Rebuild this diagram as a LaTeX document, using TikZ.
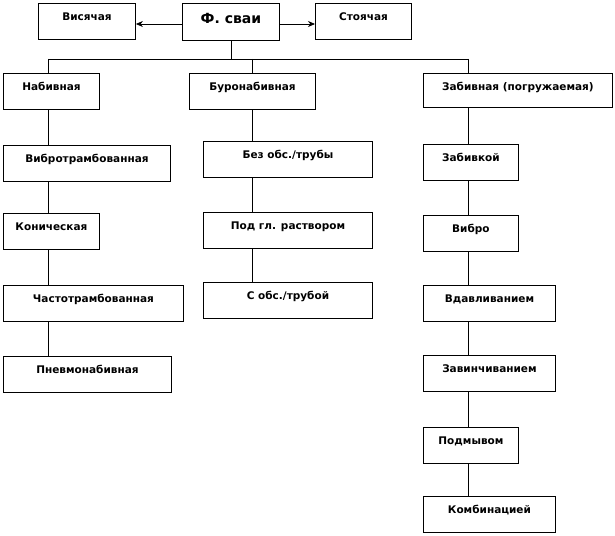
\documentclass[tikz,border=0pt]{standalone}
\usepackage{fontspec}
\setmainfont{DejaVu Sans}
\usetikzlibrary{arrows.meta}

\begin{document}
\begin{tikzpicture}[>={Stealth[length=7pt,width=6pt]}, x=1pt, y=-1pt, font=\bfseries\fontsize{10.5}{13}\selectfont,
    pbox/.style={draw, line width=0.9pt, anchor=north west, inner sep=0pt,
      text height=17pt, text depth=19pt, minimum width=#1},
    link/.style={line width=0.8pt}]
  \useasboundingbox (0,0) rectangle (615,535);
  % columns and the bus under the root
  \coordinate (col1) at (48,0);
  \coordinate (col2) at (252,0);
  \coordinate (col3) at (468,0);
  \coordinate (bus) at (0,59);
  \coordinate (arr) at (0,24);
  % top row: the root and the two kinds by load transfer
  \node[pbox=97] (visyach) at (38,3) {Висячая};
  \node[pbox=97, font=\bfseries\fontsize{14}{16}\selectfont, text height=20pt, text depth=17pt] (fsvai) at (182,3) {Ф. сваи};
  \node[pbox=96] (stoyach) at (315,3) {Стоячая};
  \draw[->, link] (fsvai.west |- arr) -- (visyach.east |- arr);
  \draw[->, link] (fsvai.east |- arr) -- (stoyach.west |- arr);
  % second row
  \node[pbox=96] (nabiv) at (3,73) {Набивная};
  \node[pbox=126] (buronab) at (189,73) {Буронабивная};
  \node[pbox=189, text depth=17pt] (zabiv) at (423,73) {Забивная (погружаемая)};
  \draw[link] (fsvai.south) -- (fsvai.south |- bus);
  \draw[link] (col1 |- bus) -- (col3 |- bus);
  \draw[link] (col1 |- bus) -- (nabiv.north -| col1);
  \draw[link] (col2 |- bus) -- (buronab.north -| col2);
  \draw[link] (col3 |- bus) -- (zabiv.north -| col3);
  % left column
  \node[pbox=167] (vibrotr) at (3,145) {Вибротрамбованная};
  \node[pbox=96] (konich) at (3,213) {Коническая};
  \node[pbox=180] (chastotr) at (3,285) {Частотрамбованная};
  \node[pbox=168] (pnevmo) at (3,356) {Пневмонабивная};
  \foreach \a/\b in {nabiv/vibrotr, vibrotr/konich, konich/chastotr, chastotr/pnevmo}
    \draw[link] (\a.south -| col1) -- (\b.north -| col1);
  % middle column
  \node[pbox=169] (bezobs) at (203,141) {Без обс./трубы};
  \node[pbox=169] (podgl) at (203,212) {Под гл. раствором};
  \node[pbox=169] (sobs) at (203,282) {С обс./трубой};
  \foreach \a/\b in {buronab/bezobs, bezobs/podgl, podgl/sobs}
    \draw[link] (\a.south -| col2) -- (\b.north -| col2);
  % right column
  \node[pbox=95] (zabivkoi) at (423,144) {Забивкой};
  \node[pbox=95] (vibro) at (423,215) {Вибро};
  \node[pbox=132] (vdavl) at (423,285) {Вдавливанием};
  \node[pbox=132] (zavinch) at (423,355) {Завинчиванием};
  \node[pbox=95] (podmyv) at (423,427) {Подмывом};
  \node[pbox=132] (kombin) at (423,496) {Комбинацией};
  \foreach \a/\b in {zabiv/zabivkoi, zabivkoi/vibro, vibro/vdavl, vdavl/zavinch, zavinch/podmyv, podmyv/kombin}
    \draw[link] (\a.south -| col3) -- (\b.north -| col3);
\end{tikzpicture}
\end{document}
